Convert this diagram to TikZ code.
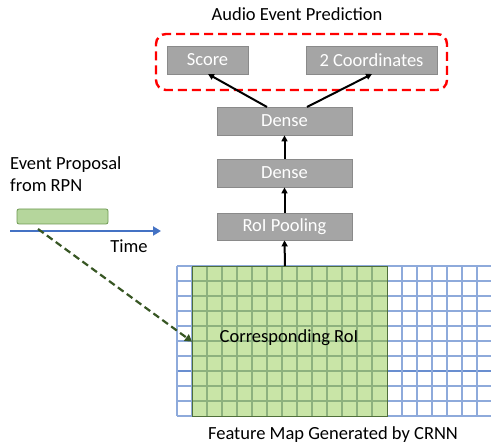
\documentclass[tikz,border=0pt]{standalone}
\usepackage{fontspec}
\setmainfont{Carlito}
\usetikzlibrary{arrows.meta}
\definecolor{boxgray}{HTML}{A5A5A5}
\definecolor{boxedge}{HTML}{8A8A8A}
\definecolor{roigreen}{HTML}{C9E5A7}
\definecolor{roiedge}{HTML}{4F6F3A}
\definecolor{gridblue}{HTML}{8EAADB}
\definecolor{gridgreen}{HTML}{8DB17E}
\definecolor{axisblue}{HTML}{4472C4}
\definecolor{propgreen}{HTML}{B5D69C}
\definecolor{propedge}{HTML}{6E9A52}
\definecolor{dashgreen}{HTML}{375623}
\begin{document}
\begin{tikzpicture}[x=1pt,y=-1pt,
  txt/.style={font=\fontsize{18.5}{22}\selectfont, inner sep=0pt},
  graybox/.style={draw=boxedge, fill=boxgray, line width=0.8pt, text=white, font=\fontsize{18.5}{22}\selectfont, inner sep=0pt},
  arr/.style={-{Triangle[length=6pt,width=6pt]}, line width=2pt, black}]
\useasboundingbox (0,0) rectangle (491,446);
% grid
\foreach \k in {0,...,10} {
  \draw[gridblue, line width=1.3pt] (177,266+15*\k) -- (491,266+15*\k);
}
\draw[axisblue!80, line width=1.3pt] (177,371) -- (491,371);
\foreach \k in {0,...,21} {
  \draw[gridblue, line width=1.3pt] (177+15*\k,266) -- (177+15*\k,416);
}
% RoI rectangle
\fill[roigreen] (192,266) rectangle (387,416);
\foreach \k in {1,...,9} {
  \draw[gridgreen, line width=1.2pt] (192,266+15*\k) -- (387,266+15*\k);
}
\foreach \k in {1,...,12} {
  \draw[gridgreen, line width=1.2pt] (192+15*\k,266) -- (192+15*\k,416);
}
\node[draw=roiedge, line width=1.3pt, minimum width=195pt, minimum height=150pt, inner sep=0pt, anchor=north west] (roi) at (192,266) {};
\node[txt] (roitext) at (289,338) {Corresponding RoI};
% boxes
\node[graybox, minimum width=135pt, minimum height=27pt] (pool) at (284.5,226.5) {RoI Pooling};
\node[graybox, minimum width=135pt, minimum height=28pt] (dense1) at (284.5,173) {Dense};
\node[graybox, minimum width=135pt, minimum height=28pt] (dense2) at (284.5,121) {Dense};
\node[graybox, minimum width=81pt, minimum height=28pt] (score) at (207.5,60) {Score};
\node[graybox, minimum width=131pt, minimum height=28pt] (coord) at (371.5,60) {2 Coordinates};
% red dashed group
\node[draw=red, line width=2.4pt, dash pattern=on 9pt off 5pt, rounded corners=10pt, minimum width=291pt, minimum height=56pt, inner sep=0pt] (group) at (301.5,62) {};
% titles
\node[txt] (title) at (297,14) {Audio Event Prediction};
\node[txt] (fmap) at (333,435) {Feature Map Generated by CRNN};
% arrows
\coordinate (roitop) at (285,266);
\draw[arr] (roitop) -- (pool.south);
\draw[arr] (pool.north) -- (dense1.south);
\draw[arr] (dense1.north) -- (dense2.south);
\coordinate (d2a) at (267,107);
\coordinate (d2b) at (307,107);
\coordinate (sc) at (208,74);
\coordinate (co) at (372,74);
\draw[arr] (d2a) -- (sc);
\draw[arr] (d2b) -- (co);
% left part
\node[txt, anchor=west, align=left] (prop) at (10,174) {Event Proposal\\from RPN};
\node[draw=propedge, fill=propgreen, line width=0.8pt, rounded corners=2pt, minimum width=91pt, minimum height=15pt, inner sep=0pt] (propbox) at (62.5,216.5) {};
\coordinate (tstart) at (10,231);
\coordinate (tend) at (161,231);
\draw[axisblue, line width=2.2pt, -{Triangle[length=8pt,width=9pt]}] (tstart) -- (tend);
\node[txt] (time) at (129,246) {Time};
\coordinate (dstart) at (38,229);
\draw[dashgreen, line width=2.2pt, dash pattern=on 7pt off 4pt, -{Triangle[length=7pt,width=8pt]}] (dstart) -- (roi.west);
\end{tikzpicture}
\end{document}
